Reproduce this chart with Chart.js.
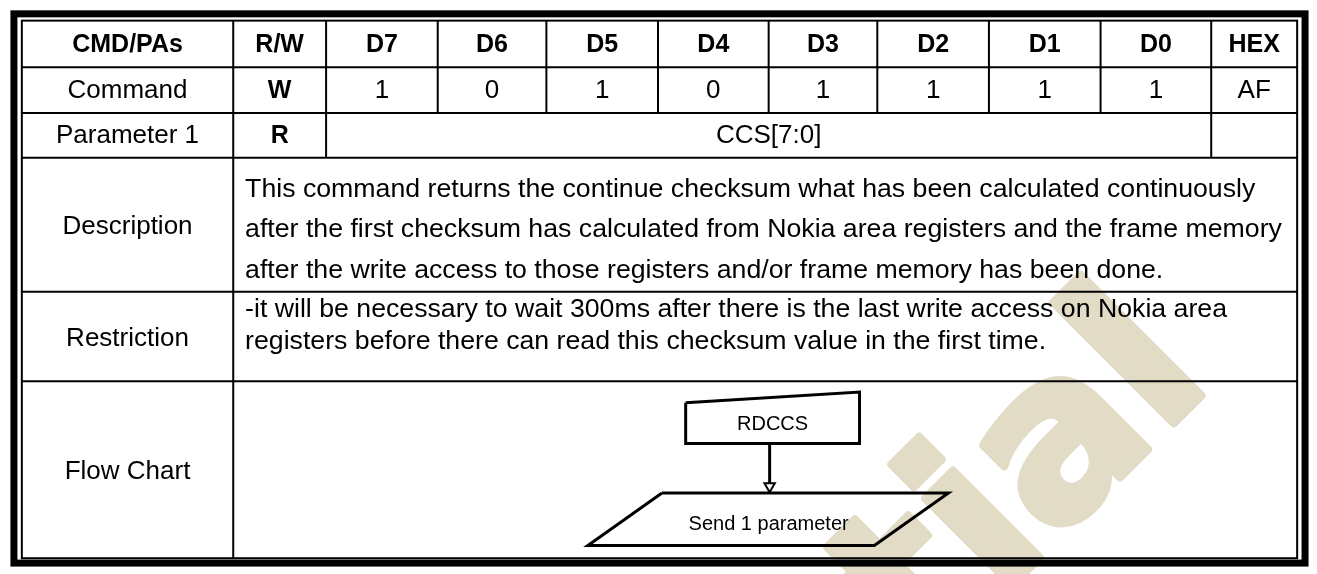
<!DOCTYPE html>
<html>
<head>
<meta charset="utf-8">
<script src="https://cdn.jsdelivr.net/npm/chart.js@4.4.1/dist/chart.umd.min.js"></script>
<style>
  html, body { margin: 0; padding: 0; background: #fff; }
  canvas { display: block; }
</style>
</head>
<body>
<canvas id="myChart" width="1317" height="574"></canvas>
<script>
// table content
var headers = ['CMD/PAs', 'R/W', 'D7', 'D6', 'D5', 'D4', 'D3', 'D2', 'D1', 'D0', 'HEX'];
var commandRow = ['Command', 'W', '1', '0', '1', '0', '1', '1', '1', '1', 'AF'];
var paramRow = ['Parameter 1', 'R', 'CCS[7:0]', ''];
var rowLabels = ['Description', 'Restriction', 'Flow Chart'];
var descriptionLines = [
  'This command returns the continue checksum what has been calculated continuously',
  'after the first checksum has calculated from Nokia area registers and the frame memory',
  'after the write access to those registers and/or frame memory has been done.'
];
var restrictionLines = [
  '-it will be necessary to wait 300ms after there is the last write access on Nokia area',
  'registers before there can read this checksum value in the first time.'
];
var flowSteps = ['RDCCS', 'Send 1 parameter'];
var watermarkText = 'Confidential';

// layout (page units, the scales run 0..1317 and 0..574)
var colEdges = [14, 228, 322, 435, 545, 658, 770, 880, 993, 1106, 1218, 1305];
var rowEdges = [13, 61, 108, 154, 292, 384, 566];
var descBase = [194, 236, 278];
var restBase = [318, 351];
var textX = 240;
var boxShape = [{x:686,y:406},{x:862,y:395},{x:862,y:448},{x:686,y:448},{x:686,y:406}];
var ioShape = [{x:662,y:499},{x:952,y:499},{x:877,y:553},{x:587,y:553},{x:662,y:499}];
var arrowLine = [{x:771,y:448},{x:771,y:489}];
var arrowHead = [{x:771,y:492}];
var flowLabelPos = [{x:774,y:428},{x:770,y:531}];
var markPos = {x:1222, y:385};

var FONT = "'Liberation Sans', Arial, sans-serif";

var tablePlugin = {
  id: 'table',
  beforeDraw: function(c){
    var ctx = c.ctx, sx = c.scales.x, sy = c.scales.y;
    ctx.save();
    ctx.fillStyle = '#fff';
    ctx.fillRect(0, 0, c.width, c.height);
    // watermark
    ctx.translate(sx.getPixelForValue(markPos.x), sy.getPixelForValue(markPos.y));
    ctx.rotate(-Math.PI / 4);
    ctx.fillStyle = '#e2dcc6';
    ctx.strokeStyle = '#e2dcc6';
    ctx.lineWidth = 8;
    ctx.lineJoin = 'round';
    ctx.font = "bold 225px 'DejaVu Sans', sans-serif";
    ctx.textAlign = 'right';
    ctx.textBaseline = 'alphabetic';
    ctx.fillText(watermarkText, 0, 0);
    ctx.strokeText(watermarkText, 0, 0);
    ctx.restore();
  },
  beforeDatasetsDraw: function(c){
    var ctx = c.ctx, sx = c.scales.x, sy = c.scales.y;
    var X = function(v){ return sx.getPixelForValue(v); };
    var Y = function(v){ return sy.getPixelForValue(v); };
    var left = colEdges[0], right = colEdges[colEdges.length - 1];
    var top = rowEdges[0], bottom = rowEdges[rowEdges.length - 1];
    ctx.save();

    // outer double border
    ctx.strokeStyle = '#000';
    ctx.lineWidth = 7;
    ctx.strokeRect(X(left - 8), Y(top - 7), X(right + 8) - X(left - 8), Y(bottom + 5) - Y(top - 7));
    ctx.lineWidth = 2;
    ctx.strokeRect(X(left), Y(top), X(right) - X(left), Y(bottom) - Y(top));

    function hline(y, x0, x1){ ctx.beginPath(); ctx.moveTo(X(x0), Y(y)); ctx.lineTo(X(x1), Y(y)); ctx.stroke(); }
    function vline(x, y0, y1){ ctx.beginPath(); ctx.moveTo(X(x), Y(y0)); ctx.lineTo(X(x), Y(y1)); ctx.stroke(); }

    for (var r = 1; r < rowEdges.length - 1; r++) hline(rowEdges[r], left, right);
    vline(colEdges[1], top, bottom);
    for (var i = 2; i < colEdges.length - 1; i++) vline(colEdges[i], top, rowEdges[2]);
    // parameter row: R/W | CCS span | HEX
    vline(colEdges[2], rowEdges[2], rowEdges[3]);
    vline(colEdges[10], rowEdges[2], rowEdges[3]);

    ctx.fillStyle = '#000';
    ctx.textBaseline = 'middle';
    ctx.textAlign = 'center';
    function mid(a, b){ return (a + b) / 2; }
    function cellText(t, x, y, bold){
      ctx.font = (bold ? 'bold 25px ' : '26px ') + FONT;
      ctx.fillText(t, X(x), Y(y));
    }
    var yH = mid(rowEdges[0], rowEdges[1]), yC = mid(rowEdges[1], rowEdges[2]), yP = mid(rowEdges[2], rowEdges[3]);
    headers.forEach(function(h, i){ cellText(h, mid(colEdges[i], colEdges[i+1]), yH + 1, true); });
    commandRow.forEach(function(t, i){ cellText(t, mid(colEdges[i], colEdges[i+1]), yC + 1, i === 1); });
    cellText(paramRow[0], mid(colEdges[0], colEdges[1]), yP + 1, false);
    cellText(paramRow[1], mid(colEdges[1], colEdges[2]), yP + 1, true);
    cellText(paramRow[2], mid(colEdges[2], colEdges[10]), yP + 1, false);
    cellText(paramRow[3], mid(colEdges[10], colEdges[11]), yP + 1, false);
    rowLabels.forEach(function(t, k){
      cellText(t, mid(colEdges[0], colEdges[1]), mid(rowEdges[3+k], rowEdges[4+k]) + 2, false);
    });

    ctx.textAlign = 'left';
    ctx.textBaseline = 'alphabetic';
    ctx.font = '26.7px ' + FONT;
    descriptionLines.forEach(function(t, k){ ctx.fillText(t, X(textX), Y(descBase[k])); });
    restrictionLines.forEach(function(t, k){ ctx.fillText(t, X(textX), Y(restBase[k])); });
    ctx.restore();
  },
  afterDatasetsDraw: function(c){
    var ctx = c.ctx, sx = c.scales.x, sy = c.scales.y;
    ctx.save();
    ctx.fillStyle = '#000';
    ctx.font = '20px ' + FONT;
    ctx.textAlign = 'center';
    ctx.textBaseline = 'middle';
    flowSteps.forEach(function(t, k){
      ctx.fillText(t, sx.getPixelForValue(flowLabelPos[k].x), sy.getPixelForValue(flowLabelPos[k].y));
    });
    ctx.restore();
  }
};

function shape(points, width){
  return { data: points, showLine: true, borderColor: '#000', borderWidth: width,
           pointRadius: 0, fill: false, tension: 0, borderJoinStyle: 'miter' };
}

var ctx = document.getElementById('myChart').getContext('2d');
var myChart = new Chart(ctx, {
  type: 'scatter',
  data: {
    datasets: [
      shape(boxShape, 3),
      shape(ioShape, 3),
      shape(arrowLine, 3),
      { data: arrowHead, pointStyle: 'triangle', rotation: 180, pointRadius: 6,
        backgroundColor: '#fff', borderColor: '#000', borderWidth: 2, showLine: false }
    ]
  },
  options: {
    responsive: false,
    animation: false,
    devicePixelRatio: 1,
    layout: { padding: 0 },
    plugins: { legend: { display: false }, tooltip: { enabled: false } },
    scales: {
      x: { type: 'linear', min: 0, max: 1317, display: false },
      y: { type: 'linear', min: 0, max: 574, reverse: true, display: false }
    }
  },
  plugins: [tablePlugin]
});
</script>
</body>
</html>
